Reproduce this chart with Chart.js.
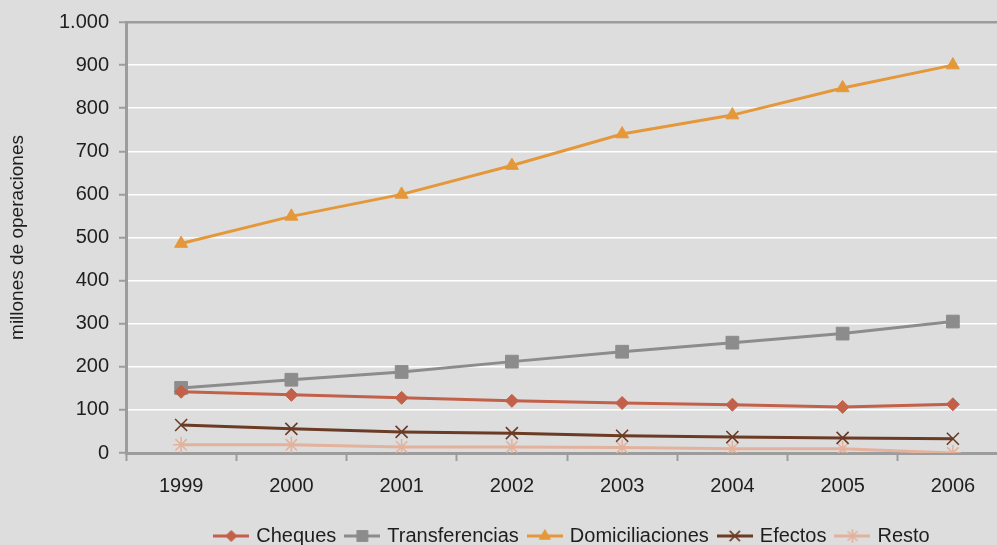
<!DOCTYPE html>
<html>
<head>
<meta charset="utf-8">
<script src="https://cdn.jsdelivr.net/npm/chart.js@4/dist/chart.umd.min.js"></script>
<style>
  html, body { margin: 0; padding: 0; background: #dddddd; overflow: hidden; }
  #wrap { position: relative; width: 997px; height: 545px; overflow: hidden; }
  #box { position: absolute; left: 0; top: 0; width: 1140px; height: 556px; }
</style>
</head>
<body>
<div id="wrap"><div id="box"><canvas id="c"></canvas></div></div>
<script>
const categories = ['1999', '2000', '2001', '2002', '2003', '2004', '2005', '2006'];
const cheques = [142, 135, 128, 121, 116, 112, 107, 113];
const transferencias = [151, 170, 188, 212, 235, 256, 277, 305];
const domiciliaciones = [486, 549, 600, 667, 740, 784, 847, 900];
const efectos = [65, 56, 49, 46, 40, 37, 35, 33];
const resto = [19, 19, 14, 14, 13, 10, 10, 0];
const yTicks = [0, 100, 200, 300, 400, 500, 600, 700, 800, 900, 1000];
const yTitle = 'millones de operaciones';

const FONT = "'Liberation Sans', Arial, sans-serif";
const AXIS = '#9c9c9c';

function fmt(v) {
  return String(v).replace(/\B(?=(\d{3})+(?!\d))/g, '.');
}

function makeDs(label, data, color, style, radius, bw) {
  const hollow = style === 'crossRot' || style === 'star';
  return {
    label, data,
    borderColor: color,
    backgroundColor: color,
    borderWidth: 3,
    pointStyle: style,
    pointRadius: radius,
    pointHoverRadius: radius,
    pointBorderWidth: hollow ? bw : 1,
    pointBorderColor: color,
    pointBackgroundColor: color,
    tension: 0,
    fill: false
  };
}

const datasets = [
  makeDs('Cheques', cheques, '#c2604a', 'rectRot', 6.5, 1),
  makeDs('Transferencias', transferencias, '#8c8c8c', 'rect', 9, 1),
  makeDs('Domiciliaciones', domiciliaciones, '#e4983a', 'triangle', 7.5, 1),
  makeDs('Efectos', efectos, '#6b3b25', 'crossRot', 8.5, 1.6),
  makeDs('Resto', resto, '#e3b29d', 'star', 8, 1.6)
];

function legendIcon(ds) {
  const cv = document.createElement('canvas');
  cv.width = 36; cv.height = 16;
  const ctx = cv.getContext('2d');
  ctx.strokeStyle = ds.borderColor;
  ctx.lineWidth = 3;
  ctx.beginPath(); ctx.moveTo(0, 8); ctx.lineTo(36, 8); ctx.stroke();
  ctx.fillStyle = ds.pointBackgroundColor;
  ctx.strokeStyle = ds.pointBorderColor;
  ctx.lineWidth = ds.pointBorderWidth;
  Chart.helpers.drawPoint(ctx, { pointStyle: ds.pointStyle, radius: ds.pointRadius * 0.85, rotation: 0, borderWidth: ds.pointBorderWidth }, 18, 8);
  return cv;
}

const shiftLegend = {
  id: 'shiftLegend',
  afterLayout(chart) {
    const lg = chart.legend;
    if (lg) { lg.left += 69; lg.right += 69; }
  }
};

new Chart(document.getElementById('c'), {
  type: 'line',
  data: { labels: categories, datasets },
  plugins: [shiftLegend],
  options: {
    responsive: true,
    maintainAspectRatio: false,
    animation: false,
    layout: { padding: { top: 22, right: 132, left: 0, bottom: 0 } },
    plugins: {
      tooltip: { enabled: false },
      legend: {
        position: 'bottom',
        labels: {
          usePointStyle: true,
          pointStyleWidth: 30,
          padding: 11,
          color: '#1e1e1e',
          font: { family: FONT, size: 20 },
          generateLabels(chart) {
            return chart.data.datasets.map((ds, i) => ({
              text: ds.label,
              pointStyle: legendIcon(ds),
              fillStyle: ds.backgroundColor,
              strokeStyle: ds.borderColor,
              lineWidth: 0,
              datasetIndex: i,
              fontColor: '#1e1e1e'
            }));
          }
        }
      }
    },
    scales: {
      x: {
        offset: true,
        grid: { display: true, drawOnChartArea: false, offset: true, tickLength: 8, tickColor: AXIS, tickWidth: 2 },
        border: { display: true, color: AXIS, width: 3 },
        ticks: { color: '#1e1e1e', padding: 13, font: { family: FONT, size: 20 }, maxRotation: 0 },
        afterFit(scale) { scale.height = 62; }
      },
      y: {
        min: 0, max: 1000,
        afterBuildTicks(scale) { scale.ticks = yTicks.map(v => ({ value: v })); },
        afterFit(scale) { scale.width = 126; },
        grid: {
          color: ctx => (ctx.tick && (ctx.tick.value === 1000 || ctx.tick.value === 0)) ? AXIS : '#ffffff',
          lineWidth: ctx => (ctx.tick && ctx.tick.value === 1000) ? 2.5 : 1.5,
          tickLength: 7, tickColor: AXIS, tickWidth: 2
        },
        border: { display: true, color: AXIS, width: 3 },
        ticks: { color: '#1e1e1e', padding: 10, font: { family: FONT, size: 20 }, callback: v => fmt(v) },
        title: { display: true, text: yTitle, color: '#1e1e1e', font: { family: FONT, size: 19 }, padding: { top: 6, bottom: 0 } }
      }
    }
  }
});
</script>
</body>
</html>
